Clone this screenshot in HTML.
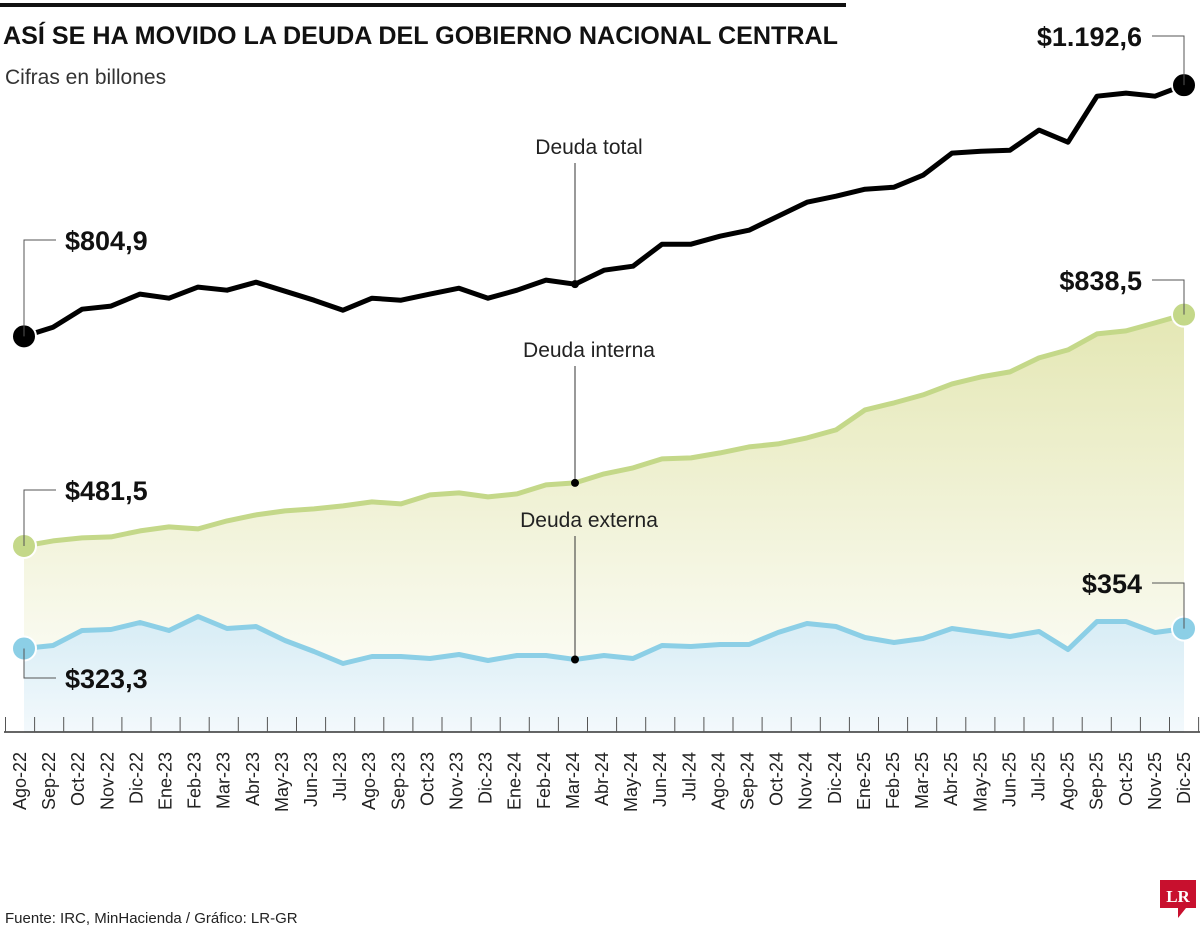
<!DOCTYPE html>
<html><head><meta charset="utf-8">
<style>
html,body{margin:0;padding:0;background:#fff;}
svg{display:block;font-family:"Liberation Sans",sans-serif;}
</style></head>
<body>
<svg id="chart" width="1200" height="926" viewBox="0 0 1200 926">
<defs>
<linearGradient id="gGreen" x1="0" y1="0" x2="0" y2="1">
<stop offset="0" stop-color="#e4e7b4"/><stop offset="1" stop-color="#ffffff"/>
</linearGradient>
<linearGradient id="gBlue" x1="0" y1="0" x2="0" y2="1">
<stop offset="0" stop-color="#d6ecf5"/><stop offset="1" stop-color="#f3f9fc"/>
</linearGradient>
</defs>
<rect x="0" y="3" width="846" height="4" fill="#111"/>
<text x="3" y="44" font-size="25" font-weight="bold" fill="#111" textLength="835" lengthAdjust="spacingAndGlyphs">ASÍ SE HA MOVIDO LA DEUDA DEL GOBIERNO NACIONAL CENTRAL</text>
<text x="5" y="84" font-size="21" fill="#333">Cifras en billones</text>
<g id="areas"></g>
<g id="lines"></g>
<g id="axis"></g>
<g id="annot"></g>
<text x="5" y="923" font-size="15" fill="#222">Fuente: IRC, MinHacienda / Gráfico: LR-GR</text>
<g>
<path d="M1160 880 H1196 V908 H1186 L1178 918 L1178 908 H1160 Z" fill="#c8102e"/>
<text x="1178" y="902" font-size="17" font-weight="bold" fill="#fff" text-anchor="middle" font-family="Liberation Serif,serif">LR</text>
</g>
</svg>
<script>
const months=["Ago-22","Sep-22","Oct-22","Nov-22","Dic-22","Ene-23","Feb-23","Mar-23","Abr-23","May-23","Jun-23","Jul-23","Ago-23","Sep-23","Oct-23","Nov-23","Dic-23","Ene-24","Feb-24","Mar-24","Abr-24","May-24","Jun-24","Jul-24","Ago-24","Sep-24","Oct-24","Nov-24","Dic-24","Ene-25","Feb-25","Mar-25","Abr-25","May-25","Jun-25","Jul-25","Ago-25","Sep-25","Oct-25","Nov-25","Dic-25"];
const deudaTotal=[804.9,819.1,846.9,851.6,870.1,863.9,880.9,876.2,888.6,874.7,860.8,845.4,863.9,860.8,870.1,879.3,863.9,876.2,891.7,885.5,907.1,913.3,947.2,947.2,959.6,968.8,990.4,1012,1021.3,1032.1,1035.2,1053.7,1087.7,1090.7,1092.2,1123.2,1104.6,1175.6,1180.3,1175.6,1192.6];
const deudaInterna=[481.5,489.3,493.9,495.5,504.7,510.9,507.8,520.2,529.4,535.6,538.7,543.3,549.5,546.4,560.3,563.4,557.2,561.8,575.7,578.8,592.7,602,615.9,617.4,625.1,634.4,639,648.3,660.6,691.5,702.3,714.6,731.6,742.4,750.1,771.7,784.1,808.8,813.4,825.7,838.5];
const deudaExterna=[323.3,327.9,351,352.6,363.4,351,372.6,354.1,357.2,335.6,318.6,300.1,310.9,310.9,307.8,314,304.7,312.4,312.4,306.3,312.4,307.8,327.9,326.3,329.4,329.4,347.9,361.8,357.2,340.2,332.5,338.7,354.1,347.9,341.8,349.5,321.7,364.9,364.9,347.9,354];
const endLabels=["$804,9","$1.192,6","$481,5","$838,5","$323,3","$354"];
const seriesNames=["Deuda total","Deuda interna","Deuda externa"];

const NS="http://www.w3.org/2000/svg";
const X=i=>24+29*i;
const LX=i=>20+29.1*i;
const Y=v=>84+(1194.4-v)*0.648;
const BASE=732;
function mk(tag,attrs,parent){const e=document.createElementNS(NS,tag);for(const k in attrs)e.setAttribute(k,attrs[k]);parent.appendChild(e);return e;}
const areas=document.getElementById('areas'),lines=document.getElementById('lines'),axis=document.getElementById('axis'),annot=document.getElementById('annot');
function pts(d){return d.map((v,i)=>X(i).toFixed(1)+","+Y(v).toFixed(1)).join(" ");}
function areaPath(d){return "M"+X(0)+","+BASE+" L"+pts(d).split(" ").join(" L")+" L"+X(d.length-1)+","+BASE+" Z";}

let a1=mk('path',{d:areaPath(deudaInterna),fill:'url(#gGreen)'},areas);


let a2=mk('path',{d:areaPath(deudaExterna),fill:'url(#gBlue)'},areas);



const defs=[[deudaTotal,'#000','line-deuda-total'],[deudaInterna,'#c4d889','line-deuda-interna'],[deudaExterna,'#8ccfe6','line-deuda-externa']];
defs.forEach(([d,c,n])=>{
  let l=mk('polyline',{points:pts(d),fill:'none',stroke:c,'stroke-width':5,'stroke-linejoin':'round'},lines);
  
  
  [0,d.length-1].forEach(i=>{
    let c2=mk('circle',{cx:X(i),cy:Y(d[i]),r:12,fill:c,stroke:'#fff','stroke-width':2},lines);
    
    
  });
});

let ax=mk('line',{x1:4,y1:BASE,x2:1200,y2:BASE,stroke:'#333','stroke-width':1.5},axis);


for(let i=0;i<=months.length;i++){
  let t=mk('line',{x1:5.5+29.1*i,y1:717,x2:5.5+29.1*i,y2:BASE,stroke:'#555','stroke-width':1},axis);
  
  
}
months.forEach((m,i)=>{
  let t=mk('text',{x:0,y:0,transform:`translate(${LX(i)+6},752) rotate(-90)`,'text-anchor':'end','font-size':18,fill:'#222'},axis);
  t.textContent=m;
  
  
});

const annIdx=19;
[[deudaTotal,147],[deudaInterna,350],[deudaExterna,520]].forEach(([d,ty],k)=>{
  const x=X(annIdx),y=Y(d[annIdx]);
  let l=mk('line',{x1:x,y1:ty+16,x2:x,y2:y,stroke:'#333','stroke-width':1},annot);
  
  
  let c=mk('circle',{cx:x,cy:y,r:4,fill:'#000'},annot);
  
  
  let t=mk('text',{x:x+14,y:ty+7,'text-anchor':'middle','font-size':21,fill:'#222'},annot);
  t.textContent=seriesNames[k];
  
  
});

const lab=[[deudaTotal,0,240,'left'],[deudaTotal,40,36,'right'],[deudaInterna,0,490,'left'],[deudaInterna,40,280,'right'],[deudaExterna,0,678,'left'],[deudaExterna,40,583,'right']];
lab.forEach(([d,i,ly,side],k)=>{
  const x=X(i),y=Y(d[i]);
  const hx=side==='left'?x+32:x-32;
  let p=mk('polyline',{points:`${x},${y} ${x},${ly} ${hx},${ly}`,fill:'none',stroke:'#555','stroke-width':1},annot);
  
  
  let t=mk('text',{x:side==='left'?x+41:x-42,y:ly+10,'text-anchor':side==='left'?'start':'end','font-size':27,'font-weight':'bold',fill:'#111'},annot);
  t.textContent=endLabels[k];
  
  
});
</script>
</body></html>
